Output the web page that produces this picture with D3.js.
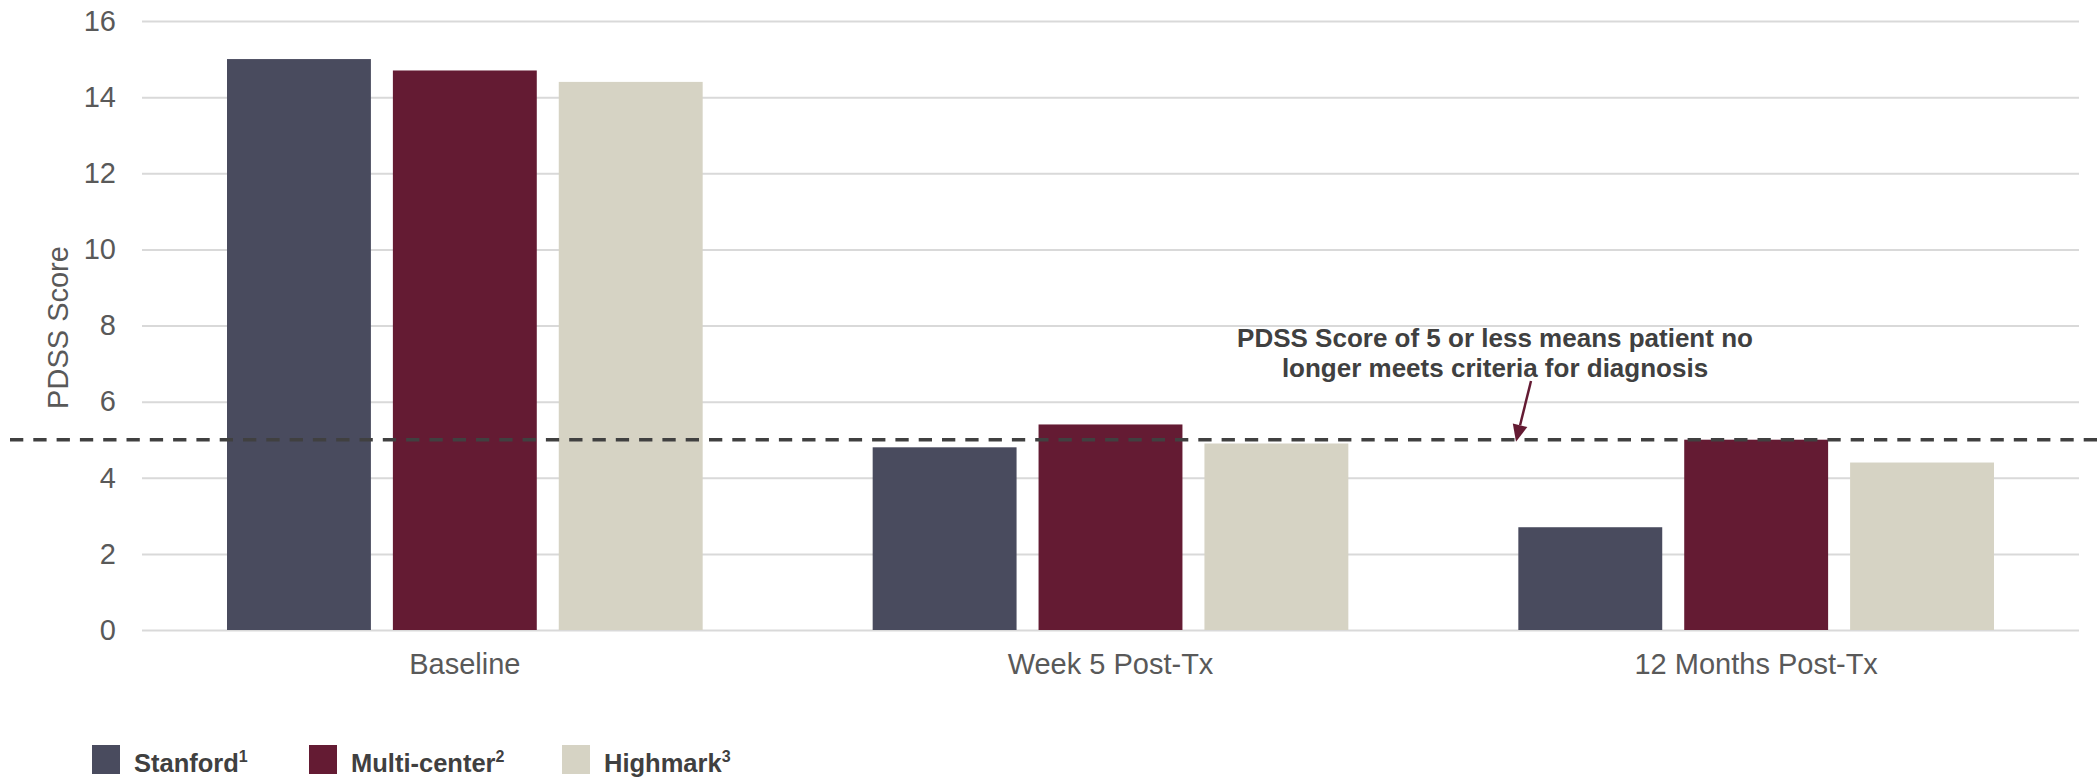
<!DOCTYPE html>
<html>
<head>
<meta charset="utf-8">
<script src="https://cdn.jsdelivr.net/npm/d3@7"></script>
<style>
  html, body { margin: 0; padding: 0; background: #ffffff; }
  svg { display: block; font-family: "Liberation Sans", Arial, sans-serif; }
</style>
</head>
<body>
<svg id="chart" width="2100" height="777"></svg>
<script>
// ---- data ----
const categories = ["Baseline", "Week 5 Post-Tx", "12 Months Post-Tx"];
const seriesNames = ["Stanford", "Multi-center", "Highmark"];
const seriesSup = ["1", "2", "3"];
const stanford = [15.0, 4.8, 2.7];
const multiCenter = [14.7, 5.4, 5.0];
const highmark = [14.4, 4.9, 4.4];
const yTicks = [0, 2, 4, 6, 8, 10, 12, 14, 16];
const threshold = 5;
const yTitle = "PDSS Score";
const annotationLines = ["PDSS Score of 5 or less means patient no", "longer meets criteria for diagnosis"];

// ---- styles / layout ----
const colors = ["#494B5E", "#641B33", "#D6D3C4"];
const seriesValues = [stanford, multiCenter, highmark];
const plot = { left: 142, right: 2079, top: 21, bottom: 630 };
const textGrey = "#595959";
const darkText = "#404040";
const legendX = [92, 309, 562];

const svg = d3.select("#chart");

const y = d3.scaleLinear().domain([0, 16]).range([plot.bottom, plot.top]);
const x0 = d3.scaleBand().domain(categories).range([plot.left, plot.right]).padding(0);
const groupPad = 85;
const x1 = d3.scaleBand().domain(seriesNames)
  .range([groupPad, x0.bandwidth() - groupPad])
  .paddingInner(22 / 166).paddingOuter(0);

// y axis with gridlines
const yAxis = svg.append("g")
  .attr("transform", `translate(${plot.left},0)`)
  .call(d3.axisLeft(y).tickValues(yTicks).tickSize(-(plot.right - plot.left)).tickPadding(26));
yAxis.select(".domain").remove();
yAxis.selectAll(".tick line").attr("stroke", "#D9D9D9").attr("stroke-width", 2);
yAxis.selectAll(".tick text")
  .attr("fill", textGrey).attr("font-size", 29)
  .attr("font-family", "'Liberation Sans', Arial, sans-serif");

// y axis title
svg.append("text")
  .attr("transform", `translate(68, ${(y(6) + y(10)) / 2 + 2}) rotate(-90)`)
  .attr("text-anchor", "middle")
  .attr("fill", textGrey).attr("font-size", 29)
  .text(yTitle);

// x axis labels
const xAxis = svg.append("g")
  .attr("transform", `translate(0,${plot.bottom})`)
  .call(d3.axisBottom(x0).tickSize(0).tickPadding(23));
xAxis.select(".domain").remove();
xAxis.selectAll(".tick text")
  .attr("fill", textGrey).attr("font-size", 29)
  .attr("font-family", "'Liberation Sans', Arial, sans-serif");

// bars
const groups = svg.append("g").selectAll("g")
  .data(categories)
  .join("g")
  .attr("transform", d => `translate(${x0(d)},0)`);

groups.selectAll("rect")
  .data((c, ci) => seriesNames.map((s, si) => ({ s, si, v: seriesValues[si][ci] })))
  .join("rect")
  .attr("x", d => x1(d.s))
  .attr("width", x1.bandwidth())
  .attr("y", d => y(d.v))
  .attr("height", d => y(0) - y(d.v))
  .attr("fill", d => colors[d.si]);

// threshold dashed line
svg.append("line")
  .attr("x1", 10).attr("x2", 2100)
  .attr("y1", y(threshold)).attr("y2", y(threshold))
  .attr("stroke", darkText).attr("stroke-width", 3.5)
  .attr("stroke-dasharray", "13.3 10");

// annotation
const ann = svg.append("text")
  .attr("text-anchor", "middle")
  .attr("fill", darkText).attr("font-size", 26).attr("font-weight", "bold");
annotationLines.forEach((t, i) => {
  ann.append("tspan").attr("x", 1495).attr("y", 347 + i * 30).text(t);
});

// arrow
const tipX = 1516, tipY = y(threshold) + 2;
const startX = 1531, startY = 381;
const ang = Math.atan2(tipY - startY, tipX - startX);
const headLen = 17, headHalf = 7.5;
const baseX = tipX - headLen * Math.cos(ang), baseY = tipY - headLen * Math.sin(ang);
svg.append("line")
  .attr("x1", startX).attr("y1", startY).attr("x2", baseX).attr("y2", baseY)
  .attr("stroke", "#641B33").attr("stroke-width", 2.5);
svg.append("path")
  .attr("d", `M${tipX},${tipY} L${baseX - headHalf * Math.sin(ang)},${baseY + headHalf * Math.cos(ang)} L${baseX + headHalf * Math.sin(ang)},${baseY - headHalf * Math.cos(ang)} Z`)
  .attr("fill", "#641B33");

// legend
const legend = svg.append("g");
seriesNames.forEach((name, i) => {
  const lx = legendX[i];
  legend.append("rect")
    .attr("x", lx).attr("y", 745).attr("width", 28).attr("height", 29)
    .attr("fill", colors[i]);
  const t = legend.append("text")
    .attr("x", lx + 42).attr("y", 772)
    .attr("fill", darkText).attr("font-size", 25.5).attr("font-weight", "bold");
  t.append("tspan").text(name);
  t.append("tspan").attr("font-size", 16).attr("dy", -10).text(seriesSup[i]);
});
</script>
</body>
</html>
